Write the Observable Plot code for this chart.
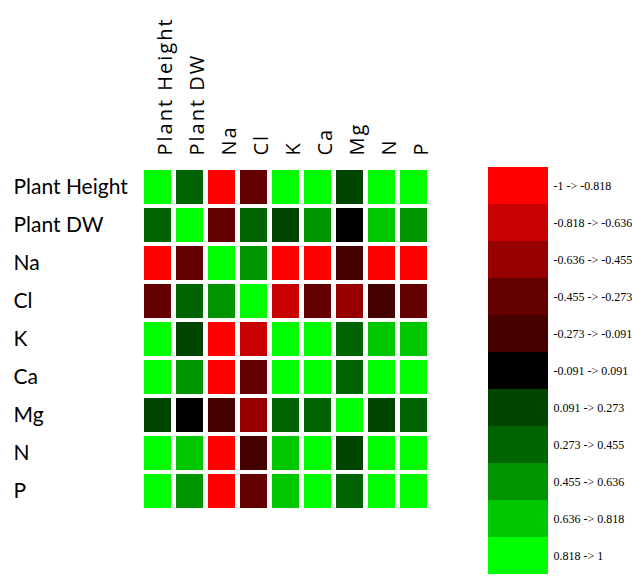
<!DOCTYPE html>
<html>
<head>
<meta charset="utf-8">
<script src="https://cdn.jsdelivr.net/npm/d3@7"></script>
<script src="https://cdn.jsdelivr.net/npm/@observablehq/plot@0.6"></script>
<style>
  body { margin: 0; background: #fff; }
  #chart { position: relative; width: 632px; height: 577px; }
  #chart svg { position: absolute; top: 0; }
</style>
</head>
<body>
<div id="chart"></div>
<script>
// Traits and ions compared in the correlation matrix
const variables = ["Plant Height", "Plant DW", "Na", "Cl", "K", "Ca", "Mg", "N", "P"];

// Pearson correlation coefficients (rows and columns follow `variables`)
const correlations = [
  [ 1.00,  0.38, -0.91, -0.41,  0.93,  0.89,  0.21,  0.86,  0.90],
  [ 0.38,  1.00, -0.35,  0.33,  0.24,  0.52,  0.04,  0.71,  0.57],
  [-0.91, -0.35,  1.00,  0.49, -0.88, -0.93, -0.19, -0.90, -0.87],
  [-0.41,  0.33,  0.49,  1.00, -0.74, -0.39, -0.58, -0.22, -0.37],
  [ 0.93,  0.24, -0.88, -0.74,  1.00,  0.95,  0.40,  0.78,  0.76],
  [ 0.89,  0.52, -0.93, -0.39,  0.95,  1.00,  0.35,  0.91,  0.94],
  [ 0.21,  0.04, -0.19, -0.58,  0.40,  0.35,  1.00,  0.17,  0.42],
  [ 0.86,  0.71, -0.90, -0.22,  0.78,  0.91,  0.17,  1.00,  0.88],
  [ 0.90,  0.57, -0.87, -0.37,  0.76,  0.94,  0.42,  0.88,  1.00]
];

// Eleven equal-width classes from -1 to 1
const thresholds = [-0.818, -0.636, -0.455, -0.273, -0.091, 0.091, 0.273, 0.455, 0.636, 0.818];
const binColors = ["#ff0000", "#c80000", "#960000", "#640000", "#460000", "#000000",
                   "#004400", "#006400", "#009400", "#00c800", "#00ff00"];
const binLabels = ["-1 -> -0.818", "-0.818 -> -0.636", "-0.636 -> -0.455", "-0.455 -> -0.273",
                   "-0.273 -> -0.091", "-0.091 -> 0.091", "0.091 -> 0.273", "0.273 -> 0.455",
                   "0.455 -> 0.636", "0.636 -> 0.818", "0.818 -> 1"];

const cells = correlations.flatMap((row, i) =>
  row.map((value, j) => ({row: variables[i], col: variables[j], value}))
);

const heatmap = Plot.plot({
  width: 480,
  height: 577,
  marginLeft: 141,
  marginRight: 51,
  marginTop: 168,
  marginBottom: 67,
  x: {type: "band", domain: variables, paddingInner: 0.17, paddingOuter: 0, axis: null},
  y: {type: "band", domain: variables, paddingInner: 0.117, paddingOuter: 0, axis: null},
  color: {type: "threshold", domain: thresholds, range: binColors},
  marks: [
    Plot.cell(cells, {x: "col", y: "row", fill: "value"}),
    // column headers, rotated to read upward
    Plot.text(variables, {
      x: d => d, text: d => d, frameAnchor: "top", rotate: -90, textAnchor: "start",
      dy: -13, fontFamily: "'Open Sans'", fontSize: 20, fill: "#000"
    }),
    // row headers
    Plot.text(variables, {
      y: d => d, text: d => d, frameAnchor: "left", textAnchor: "start",
      dx: -128, fontFamily: "Lato", fontSize: 21, fill: "#000"
    })
  ]
});
heatmap.style.left = "0px";
// widen the tracking of the column headers
const textGroups = heatmap.querySelectorAll('g[aria-label="text"]');
if (textGroups.length) {
  textGroups[0].querySelectorAll("text").forEach(t => t.setAttribute("letter-spacing", "2"));
}

const legend = Plot.plot({
  width: 152,
  height: 577,
  marginLeft: 8,
  marginRight: 84,
  marginTop: 164,
  marginBottom: 0,
  y: {type: "band", domain: binLabels, padding: 0, axis: null},
  color: {type: "ordinal", domain: binLabels, range: binColors},
  marks: [
    Plot.cell(binLabels, {y: d => d, fill: d => d}),
    Plot.text(binLabels, {
      y: d => d, text: d => d, frameAnchor: "right", dx: 5, textAnchor: "start",
      fontFamily: "'Liberation Serif'", fontSize: 12, fill: "#000"
    })
  ]
});
legend.style.left = "480px";

const root = document.getElementById("chart");
root.appendChild(heatmap);
root.appendChild(legend);
</script>
</body>
</html>
